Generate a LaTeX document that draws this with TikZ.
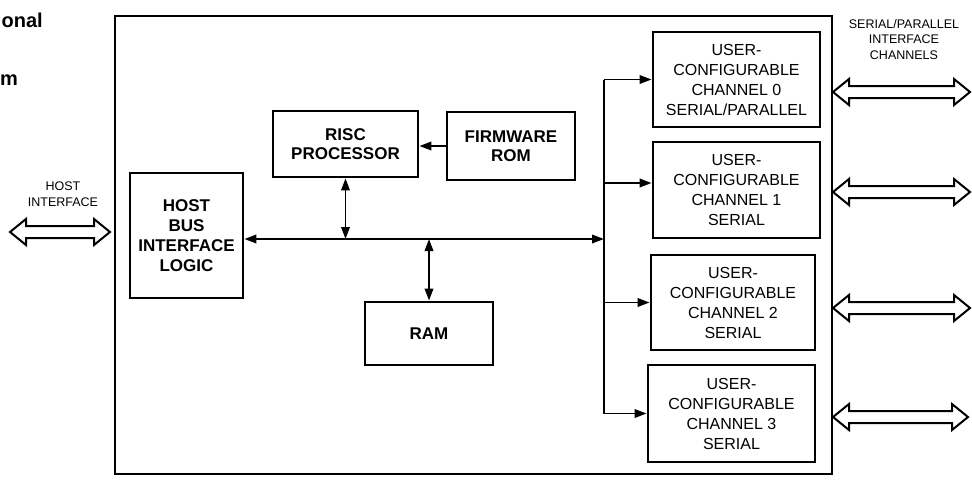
\documentclass[tikz,border=0pt]{standalone}
\usepackage{fontspec}
\setmainfont{Liberation Sans}
\usetikzlibrary{arrows.meta,calc}
\newcommand{\hollowdbl}[2]{%
  \draw[hollow] let \p1=(#1), \p2=(#2) in
    (\x1,\y1) -- (\x1+16pt,\y1+13pt) -- (\x1+16pt,\y1+6pt) --
    (\x2-16pt,\y1+6pt) -- (\x2-16pt,\y1+13pt) -- (\x2,\y1) --
    (\x2-16pt,\y1-13pt) -- (\x2-16pt,\y1-6pt) --
    (\x1+16pt,\y1-6pt) -- (\x1+16pt,\y1-13pt) -- cycle;}
\begin{document}
\begin{tikzpicture}[x=1pt,y=-1pt,
  >={Triangle[length=12pt,width=8.5pt]},
  box/.style={draw, line width=2.8pt, inner sep=0pt, align=center,
    font=\fontsize{17}{19}\selectfont\bfseries},
  chan/.style={draw, line width=2.8pt, inner sep=0pt, align=center,
    font=\fontsize{16}{20}\selectfont},
  conn/.style={line width=1.9pt},
  hollow/.style={line width=2pt, line join=miter, fill=white},
  lbl/.style={inner sep=0pt, align=center, font=\fontsize{12.5}{16}\selectfont},
  heading/.style={inner sep=0pt, font=\fontsize{20}{24}\selectfont\bfseries}]
\useasboundingbox (0,0) rectangle (972,480);

% heading fragments
\node[heading, anchor=base east] (h1) at (43,27) {onal};
\node[heading, anchor=base west] (h2) at (0,85) {m};

% outer frame
\node[draw, line width=2pt, inner sep=0pt, anchor=north west,
      minimum width=717pt, minimum height=458pt] (frame) at (114,15) {};

% blocks
\node[box, minimum width=113pt, minimum height=125pt,
      font=\fontsize{17}{20}\selectfont\bfseries] (host) at (186.5,235.5) {HOST\\BUS\\INTERFACE\\LOGIC};
\node[box, minimum width=145pt, minimum height=66pt] (risc) at (345.5,144) {RISC\\PROCESSOR};
\node[box, minimum width=128pt, minimum height=68pt] (rom) at (511,146) {FIRMWARE\\ROM};
\node[box, minimum width=128pt, minimum height=63pt] (ram) at (429,333.5) {RAM};

\node[chan, minimum width=167pt, minimum height=95pt] (ch0) at (736.5,79.5) {USER-\\CONFIGURABLE\\CHANNEL 0\\SERIAL/PARALLEL};
\node[chan, minimum width=167pt, minimum height=96pt] (ch1) at (736.5,190) {USER-\\CONFIGURABLE\\CHANNEL 1\\SERIAL};
\node[chan, minimum width=164pt, minimum height=95pt] (ch2) at (733,302.5) {USER-\\CONFIGURABLE\\CHANNEL 2\\SERIAL};
\node[chan, minimum width=167pt, minimum height=97pt] (ch3) at (731.5,413.5) {USER-\\CONFIGURABLE\\CHANNEL 3\\SERIAL};

% labels outside
\node[lbl] (hostlbl) at (63,194.5) {HOST\\INTERFACE};
\node[lbl, font=\fontsize{12.5}{15.5}\selectfont] (serlbl) at (904,39.5) {SERIAL/PARALLEL\\INTERFACE\\CHANNELS};

% internal bus
\coordinate (dist) at (604,239);
\draw[conn,<->] (host.east |- dist) -- (dist);
\draw[conn,->] (rom.west) -- (rom.west -| risc.east);
\draw[conn,<->] (risc.south) -- (risc.south |- dist);
\draw[conn,<->] (ram.north |- dist) -- (ram.north);
\draw[line width=2.2pt] (dist |- ch0.west) -- (dist |- ch3.west);
\draw[conn,->] (dist |- ch0.west) -- (ch0.west);
\draw[conn,->] (dist |- 0,183) -- ([yshift=7pt]ch1.west);
\draw[conn,->] (dist |- ch2.west) -- (ch2.west);
\draw[conn,->] (dist |- ch3.west) -- (ch3.west);

% external hollow double arrows
\coordinate (hostout) at (10,232);
\coordinate (hostin) at (110,232);
\hollowdbl{hostout}{hostin}
\coordinate (o0) at (970,92);   \hollowdbl{frame.east |- o0}{o0}
\coordinate (o1) at (970,192);  \hollowdbl{frame.east |- o1}{o1}
\coordinate (o2) at (970,308);  \hollowdbl{frame.east |- o2}{o2}
\coordinate (o3) at (968,417);  \hollowdbl{frame.east |- o3}{o3}
\end{tikzpicture}
\end{document}
